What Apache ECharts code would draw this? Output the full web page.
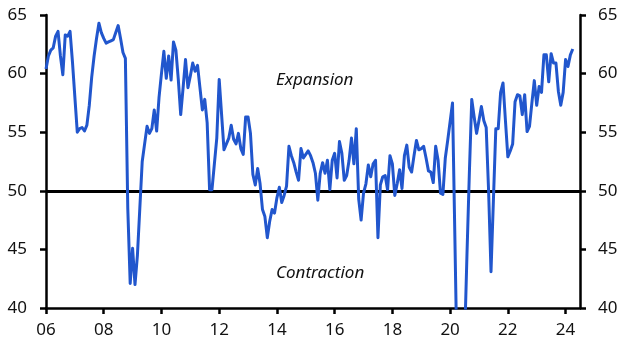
<!DOCTYPE html>
<html>
<head>
<meta charset="utf-8">
<script src="https://cdn.jsdelivr.net/npm/echarts@6/dist/echarts.min.js"></script>
<style>
  html, body { margin: 0; padding: 0; background: #fff; }
  #chart { width: 632px; height: 357px; }
</style>
</head>
<body>
<div id="chart"></div>
<script>
// Monthly index values, Jan 2006 .. Apr 2024
const v2006 = [60.4, 61.5, 62.0, 62.2, 63.2, 63.6, 61.5, 59.9, 63.3, 63.2, 63.6, 61.0];
const v2007 = [58.0, 55.0, 55.3, 55.4, 55.1, 55.6, 57.3, 59.7, 61.5, 63.0, 64.3, 63.5];
const v2008 = [63.0, 62.6, 62.7, 62.8, 62.9, 63.5, 64.1, 63.0, 61.8, 61.3, 48.5, 42.1];
const v2009 = [45.1, 42.0, 44.5, 48.5, 52.5, 54.0, 55.5, 54.9, 55.3, 56.9, 55.1, 58.0];
const v2010 = [60.0, 61.9, 59.6, 61.5, 59.45, 62.7, 62.0, 59.5, 56.5, 58.8, 61.2, 58.8];
const v2011 = [59.8, 60.9, 60.2, 60.7, 58.8, 56.9, 57.8, 55.8, 50.1, 50.1, 52.3, 54.5];
const v2012 = [59.5, 56.5, 53.5, 54.0, 54.5, 55.6, 54.4, 54.0, 54.9, 53.6, 53.1, 56.3];
const v2013 = [56.3, 54.9, 51.4, 50.5, 51.9, 50.6, 48.4, 47.8, 46.0, 47.4, 48.4, 48.1];
const v2014 = [49.4, 50.3, 49.0, 49.6, 50.4, 53.8, 53.0, 52.4, 51.6, 50.9, 53.6, 52.8];
const v2015 = [53.1, 53.4, 53.0, 52.4, 51.5, 49.2, 51.5, 52.4, 51.5, 52.6, 50.1, 52.6];
const v2016 = [53.2, 51.1, 54.2, 53.2, 50.9, 51.3, 52.6, 54.5, 52.3, 55.3, 49.3, 47.5];
const v2017 = [49.8, 50.6, 52.2, 51.2, 52.3, 52.6, 46.0, 50.5, 51.2, 51.3, 50.1, 53.0];
const v2018 = [52.3, 49.6, 50.6, 51.8, 50.2, 53.0, 53.9, 52.0, 51.6, 53.0, 54.3, 53.5];
const v2019 = [53.6, 53.8, 52.8, 51.7, 51.6, 50.7, 53.8, 52.6, 49.8, 49.7, 52.8, 54.3];
const v2020 = [55.9, 57.5, 45.8, 34.0, 30.0, 33.0, 37.0, 44.5, 51.5, 57.8, 56.3, 54.9];
const v2021 = [56.0, 57.2, 56.0, 55.4, 50.0, 43.1, 49.2, 55.3, 55.3, 58.4, 59.2, 56.0];
const v2022 = [52.9, 53.4, 54.0, 57.6, 58.2, 58.1, 56.5, 58.2, 55.05, 55.5, 57.5, 59.4];
const v2023 = [57.3, 58.9, 58.4, 61.6, 61.6, 59.3, 61.7, 60.9, 60.9, 58.5, 57.3, 58.4];
const v2024 = [61.2, 60.6, 61.6, 62.1];

const startYear = 2006;
const xTicks = [2006, 2008, 2010, 2012, 2014, 2016, 2018, 2020, 2022, 2024];
const yTicks = [40, 45, 50, 55, 60, 65];
const threshold = 50;
const labelAbove = 'Expansion';
const labelBelow = 'Contraction';

const values = [].concat(v2006, v2007, v2008, v2009, v2010, v2011, v2012, v2013,
  v2014, v2015, v2016, v2017, v2018, v2019, v2020, v2021, v2022, v2023, v2024);
const seriesData = values.map((v, i) => [startYear + i / 12, v]);

const FONT = '"Noto Sans", "Open Sans", sans-serif';
const AXIS_W = 2.5;

function yAxisCfg(pos, margin) {
  return {
    type: 'value',
    position: pos,
    min: yTicks[0],
    max: yTicks[yTicks.length - 1],
    interval: 5,
    axisLine: { show: true, lineStyle: { color: '#000', width: AXIS_W } },
    axisTick: { show: true, length: 6, lineStyle: { color: '#000', width: AXIS_W } },
    axisLabel: { color: '#111', fontSize: 17, fontFamily: FONT, margin: margin },
    splitLine: { show: false }
  };
}

const chart = echarts.init(document.getElementById('chart'), null, { renderer: 'canvas' });
chart.setOption({
  animation: false,
  backgroundColor: '#fff',
  grid: { left: 46, right: 52, top: 15, bottom: 49, containLabel: false },
  xAxis: {
    type: 'value',
    min: startYear,
    max: 2024.5,
    interval: 2,
    axisLine: { show: true, onZero: false, lineStyle: { color: '#000', width: AXIS_W } },
    axisTick: { show: true, length: 6, customValues: xTicks, lineStyle: { color: '#000', width: AXIS_W } },
    axisLabel: {
      customValues: xTicks,
      color: '#111', fontSize: 17, fontFamily: FONT, margin: 14,
      formatter: v => String(Math.round(v) % 100).padStart(2, '0')
    },
    splitLine: { show: false }
  },
  yAxis: [yAxisCfg('left', 19), yAxisCfg('right', 18)],
  series: [{
    type: 'line',
    yAxisIndex: 0,
    data: seriesData,
    showSymbol: false,
    symbol: 'none',
    clip: true,
    lineStyle: { color: '#2156cd', width: 3, join: 'round' },
    z: 3,
    markLine: {
      silent: true,
      symbol: 'none',
      label: { show: false },
      lineStyle: { color: '#000', width: 3, type: 'solid' },
      data: [{ yAxis: threshold }],
      z: 2
    }
  }],
  graphic: [
    { type: 'text', left: 276, top: 72,
      style: { text: labelAbove, font: 'italic 17px ' + FONT, fill: '#111' } },
    { type: 'text', left: 276, top: 265,
      style: { text: labelBelow, font: 'italic 17px ' + FONT, fill: '#111' } }
  ]
});
</script>
</body>
</html>
